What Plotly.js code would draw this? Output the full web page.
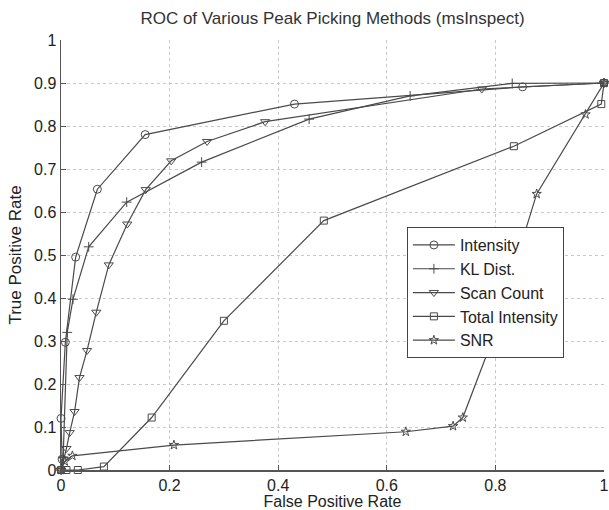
<!DOCTYPE html>
<html>
<head>
<meta charset="utf-8">
<script src="https://cdn.plot.ly/plotly-3.0.1.min.js"></script>
<style>html,body{margin:0;padding:0;background:#fff;}#chart{width:609px;height:510px;}</style>
</head>
<body>
<div id="chart"></div>
<script>
// Data
var intensityX = [0, 0.002, 0, 0.008, 0.027, 0.067, 0.155, 0.43, 0.85, 1];
var intensityY = [0, 0.025, 0.12, 0.297, 0.495, 0.653, 0.78, 0.851, 0.891, 0.9];

var klX = [0, 0.004, 0.0115, 0.022, 0.051, 0.121, 0.259, 0.457, 0.643, 0.831, 1];
var klY = [0, 0.03, 0.32, 0.397, 0.519, 0.623, 0.716, 0.816, 0.870, 0.899, 0.9];

var scanX = [0, 0.005, 0.01, 0.016, 0.025, 0.034, 0.048, 0.065, 0.088, 0.122, 0.156, 0.203, 0.269, 0.376, 0.775, 1];
var scanY = [0, 0.025, 0.05, 0.087, 0.136, 0.215, 0.278, 0.367, 0.477, 0.572, 0.652, 0.719, 0.764, 0.81, 0.886, 0.9];

var totalX = [0, 0.01, 0.031, 0.079, 0.167, 0.30, 0.484, 0.834, 0.995, 1];
var totalY = [0, 0, 0, 0.008, 0.122, 0.347, 0.58, 0.753, 0.851, 0.9];

var snrX = [0, 0.007, 0.021, 0.208, 0.635, 0.722, 0.740, 0.789, 0.876, 0.966, 1];
var snrY = [0, 0.02, 0.033, 0.058, 0.089, 0.102, 0.122, 0.285, 0.642, 0.827, 0.9];

var seriesNames = ["Intensity", "KL Dist.", "Scan Count", "Total Intensity", "SNR"];
var tickVals = [0, 0.1, 0.2, 0.3, 0.4, 0.5, 0.6, 0.7, 0.8, 0.9, 1];
var yTickText = ["0", "0.1", "0.2", "0.3", "0.4", "0.5", "0.6", "0.7", "0.8", "0.9", "1"];
var xTickVals = [0, 0.2, 0.4, 0.6, 0.8, 1];
var xTickText = ["0", "0.2", "0.4", "0.6", "0.8", "1"];

var lineColor = "#4a4a4a";
var symbols = ["circle-open", "cross-thin-open", "triangle-down-open", "square-open", "star-open"];
var sizes = [8, 7, 8, 7, 7];
var xs = [intensityX, klX, scanX, totalX, snrX];
var ys = [intensityY, klY, scanY, totalY, snrY];

var traces = [];
for (var i = 0; i < xs.length; i++) {
  traces.push({
    x: xs[i], y: ys[i], name: seriesNames[i], type: "scatter", mode: "lines+markers",
    cliponaxis: false,
    line: {color: lineColor, width: 1.2},
    marker: {symbol: symbols[i], size: sizes[i], color: lineColor, line: {color: lineColor, width: 1}}
  });
}

var font = "Arial, 'Liberation Sans', sans-serif";
var layout = {
  width: 609, height: 510,
  margin: {l: 61, r: 5, t: 40, b: 40},
  paper_bgcolor: "#fff", plot_bgcolor: "#fff",
  font: {family: font, size: 16, color: "#222"},
  title: {text: "ROC of Various Peak Picking Methods (msInspect)", font: {family: font, size: 17, color: "#333"},
          x: 0.5, xref: "paper", xanchor: "center", y: 0.965, yanchor: "middle", yref: "container"},
  showlegend: true,
  legend: {x: 0.637, y: 0.565, xanchor: "left", yanchor: "top", bgcolor: "#fff", bordercolor: "#444", borderwidth: 1,
           font: {family: font, size: 16, color: "#222"}, tracegroupgap: 0, itemwidth: 42},
  xaxis: {
    range: [0, 1], tickvals: xTickVals, ticktext: xTickText,
    showgrid: true, gridcolor: "#c8c8c8", griddash: "dot", gridwidth: 1,
    zeroline: false, showline: true, linecolor: "#555", linewidth: 1.5,
    ticks: "inside", ticklen: 5, tickcolor: "#555",
    tickfont: {family: font, size: 16, color: "#222"},
    title: {text: "False Positive Rate", font: {family: font, size: 16, color: "#222"}, standoff: 5},
    automargin: false
  },
  yaxis: {
    range: [0, 1], tickvals: tickVals, ticktext: yTickText,
    showgrid: true, gridcolor: "#c8c8c8", griddash: "dot", gridwidth: 1,
    zeroline: false, showline: true, linecolor: "#555", linewidth: 1.5,
    ticks: "inside", ticklen: 5, tickcolor: "#555",
    tickfont: {family: font, size: 16, color: "#222"},
    title: {text: "True Positive Rate", font: {family: font, size: 17, color: "#222"}, standoff: 8},
    automargin: false
  }
};
Plotly.newPlot("chart", traces, layout, {displayModeBar: false, staticPlot: true});
</script>
</body>
</html>
